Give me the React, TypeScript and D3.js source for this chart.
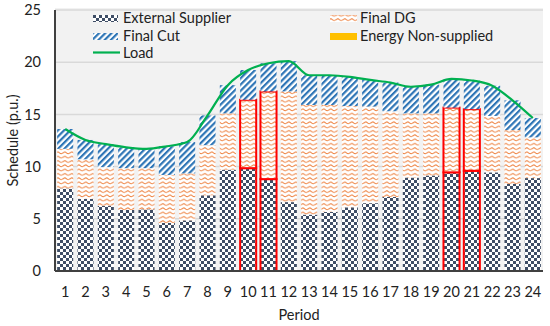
import React from "react";
import * as d3 from "d3";

const periods = ["1","2","3","4","5","6","7","8","9","10","11","12","13","14","15","16","17","18","19","20","21","22","23","24"];
const externalSupplier = [7.9, 6.9, 6.25, 5.85, 5.9, 4.6, 4.85, 7.25, 9.7, 9.85, 8.8, 6.6, 5.4, 5.65, 6.1, 6.5, 7.1, 8.95, 9.15, 9.45, 9.6, 9.45, 8.35, 8.9];
const finalDG = [3.8, 3.8, 3.7, 4.0, 3.95, 4.6, 4.5, 4.8, 5.4, 6.55, 8.4, 10.6, 10.5, 10.25, 9.7, 9.25, 8.2, 6.15, 5.95, 6.2, 5.9, 5.4, 5.15, 3.9];
const finalCut = [1.9, 1.85, 2.2, 2.0, 1.85, 2.75, 3.0, 2.85, 2.7, 2.85, 2.7, 2.9, 2.85, 2.85, 2.8, 2.55, 2.75, 2.55, 2.75, 2.75, 2.75, 2.9, 2.85, 1.85];
const energyNonSupplied = [0, 0, 0, 0, 0, 0, 0, 0, 0, 0, 0, 0, 0, 0, 0, 0, 0, 0, 0, 0, 0, 0, 0, 0];
const load = [13.6, 12.55, 12.15, 11.85, 11.7, 11.95, 12.35, 14.9, 17.8, 19.25, 19.9, 20.1, 18.75, 18.75, 18.6, 18.3, 18.05, 17.65, 17.85, 18.4, 18.25, 17.75, 16.35, 14.65];
const highlighted = ["10", "11", "20", "21"];
const yTicks = [0, 5, 10, 15, 20, 25];

const W = 550, H = 326;
const left = 55, right = 543, top = 10, bottom = 271;
const FONT = "Lato, 'Open Sans', sans-serif";

export default function App() {
  const x = d3.scaleBand<string>().domain(periods).range([left, right]).paddingInner(0.21).paddingOuter(0.105);
  const y = d3.scaleLinear().domain([0, 25]).range([bottom, top]);

  const series = [
    { key: "ext", values: externalSupplier, fill: "url(#pChecker)" },
    { key: "dg", values: finalDG, fill: "url(#pWave)" },
    { key: "cut", values: finalCut, fill: "url(#pDiag)" },
    { key: "ens", values: energyNonSupplied, fill: "#FFC000" },
  ];

  const rows = periods.map((p, i) => ({ p, ext: externalSupplier[i], dg: finalDG[i], cut: finalCut[i], ens: energyNonSupplied[i] }));
  const stack = d3.stack<any>().keys(["ext", "dg", "cut", "ens"])(rows);

  const line = d3.line<number>()
    .x((_, i) => (x(periods[i]) as number) + x.bandwidth() / 2)
    .y((d) => y(d))
    .curve(d3.curveMonotoneX);

  const bw = x.bandwidth();

  return (
    <svg width={W} height={H} style={{ position: "absolute", left: 0, top: 0 }} fontFamily={FONT}>
      <defs>
        <pattern id="pChecker" width="6" height="6" patternUnits="userSpaceOnUse">
          <rect width="6" height="6" fill="#ffffff" />
          <rect x="0" y="0" width="3" height="3" fill="#3F4E66" />
          <rect x="3" y="3" width="3" height="3" fill="#3F4E66" />
        </pattern>
        <pattern id="pWave" width="7" height="4.3" patternUnits="userSpaceOnUse">
          <rect width="7" height="4.3" fill="#ffffff" />
          <path d="M0 2.8 Q1.75 0.6 3.5 2.4 T7 2.2" fill="none" stroke="#EE8240" strokeWidth="0.95" />
        </pattern>
        <pattern id="pDiag" width="4.4" height="4.4" patternUnits="userSpaceOnUse" patternTransform="rotate(45)">
          <rect width="4.4" height="4.4" fill="#ffffff" />
          <rect x="0" y="0" width="2.2" height="4.4" fill="#2E75B6" />
        </pattern>
      </defs>

      <rect x={left} y={top - 2} width={right - left} height={bottom - top + 2} fill="#F2F2F2" />

      {yTicks.filter((t) => t > 0).map((t) => (
        <line key={t} x1={left} x2={right} y1={y(t)} y2={y(t)} stroke="#D9D9D9" strokeWidth={1.5} />
      ))}

      {stack.map((layer, li) => (
        <g key={series[li].key}>
          {layer.map((d, i) => {
            const h = y(d[0]) - y(d[1]);
            if (h <= 0) return null;
            const hl = highlighted.includes(periods[i]) && li < 2;
            return (
              <rect key={i} x={x(periods[i])} y={y(d[1])} width={bw} height={h}
                fill={series[li].fill}
                stroke={hl ? "#FF0000" : "none"} strokeWidth={hl ? 2 : 0} />
            );
          })}
        </g>
      ))}

      <path d={line(load) || ""} fill="none" stroke="#00B050" strokeWidth={2.2} />

      <line x1={left} x2={left} y1={top} y2={bottom} stroke="#404040" strokeWidth={2} />
      <line x1={left} x2={right} y1={bottom} y2={bottom} stroke="#404040" strokeWidth={2} />

      {yTicks.map((t) => (
        <text key={t} x={41} y={y(t)} dy="0.36em" textAnchor="end" fontSize={14.5} fill="#222">{t}</text>
      ))}
      {periods.map((p) => (
        <text key={p} x={(x(p) as number) + bw / 2} y={297} textAnchor="middle" fontSize={14.5} fill="#222">{p}</text>
      ))}
      <text x={(left + right) / 2} y={320} textAnchor="middle" fontSize={14.5} fill="#222">Period</text>
      <text transform={`translate(18,${(top + bottom) / 2}) rotate(-90)`} textAnchor="middle" fontSize={14.5} fill="#222">Schedule (p.u.)</text>

      <g fontSize={14.5} fill="#222">
        <rect x={93} y={15} width={25} height={7} fill="url(#pChecker)" />
        <text x={123} y={23}>External Supplier</text>
        <rect x={93} y={33} width={25} height={7} fill="url(#pDiag)" />
        <text x={123} y={41}>Final Cut</text>
        <line x1={93} x2={120} y1={52.5} y2={52.5} stroke="#00B050" strokeWidth={2.2} />
        <text x={123} y={58}>Load</text>
        <rect x={330} y={15} width={27} height={7} fill="url(#pWave)" />
        <text x={360} y={23}>Final DG</text>
        <rect x={330} y={33} width={27} height={7} fill="#FFC000" />
        <text x={360} y={41}>Energy Non-supplied</text>
      </g>
    </svg>
  );
}
